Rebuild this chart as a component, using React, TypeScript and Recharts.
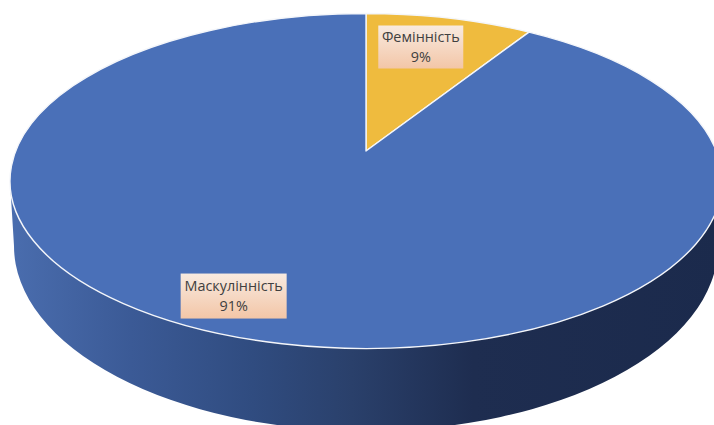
import React from "react";
import { PieChart, Pie } from "recharts";

const names = ["Фемінність", "Маскулінність"];
const shares = [9, 91];
const fills = ["#EFBB3E", "#4A70B8"];
const chartData = names.map((name, i) => ({ name, value: shares[i], fill: fills[i] }));

// Perspective of the disc
const RATIO = 0.4705;
const K = 0.179;
const S = Math.sqrt(1 - K * K);
// Extruded wall
const WALL = { dy: 65, rx: 352, ry: 185, inset: 4 };
// Per-slice label placement: polar position on the disc, plus box size
const LABEL_STYLE: Record<string, { r: number; turn: number; w: number; h: number }> = {
  "Фемінність": { r: 0.746, turn: 2.5, w: 85, h: 43 },
  "Маскулінність": { r: 0.837, turn: -6.7, w: 106, h: 45 },
};

function project(angle: number, r: number, cx: number, cy: number, R: number) {
  const a = (angle * Math.PI) / 180;
  const u = r * Math.cos(a);
  const v = r * Math.sin(a);
  const d = 1 + K * v;
  const pu = (u * S) / d;
  const pv = (v + K) / d;
  return { x: cx + R * pu, y: cy - R * RATIO * pv, pu, pv };
}

function Slice(props: any) {
  const { cx, cy, outerRadius: R, startAngle, endAngle, fill, index } = props;
  const apex = project(0, 0, cx, cy, R);
  const p0 = project(startAngle, 1, cx, cy, R);
  const p1 = project(endAngle, 1, cx, cy, R);
  const large = Math.abs(endAngle - startAngle) > 180 ? 1 : 0;
  const sweep = endAngle < startAngle ? 1 : 0;
  const ry = R * RATIO;
  const wallCy = cy + WALL.dy;
  const side = `M${cx - R},${cy} L${cx - R + WALL.inset},${wallCy} A${WALL.rx},${WALL.ry} 0 0 0 ${cx + R - WALL.inset},${wallCy} L${cx + R},${cy} Z`;
  return (
    <g>
      {index === 1 && (
        <g>
          <defs>
            <linearGradient id="wallGrad" gradientUnits="userSpaceOnUse" x1={cx - R} x2={cx + R} y1="0" y2="0">
              <stop offset="0" stopColor="#4A6DAE" />
              <stop offset="0.17" stopColor="#3B5A96" />
              <stop offset="0.34" stopColor="#304C80" />
              <stop offset="0.48" stopColor="#2A406B" />
              <stop offset="0.65" stopColor="#1E2D50" />
              <stop offset="1" stopColor="#1B2A4C" />
            </linearGradient>
          </defs>
          <path d={side} fill="url(#wallGrad)" />
        </g>
      )}
      <path
        d={`M${apex.x},${apex.y} L${p0.x},${p0.y} A${R},${ry} 0 ${large} ${sweep} ${p1.x},${p1.y} Z`}
        fill={fill}
        stroke="#F4F6FA"
        strokeWidth={1.4}
        strokeLinejoin="round"
      />
    </g>
  );
}

function SliceLabel(props: any) {
  const { cx, cy, outerRadius: R, midAngle, name, value } = props;
  const st = LABEL_STYLE[name];
  const c = project(midAngle + st.turn, st.r, cx, cy, R);
  return (
    <g>
      <defs>
        <linearGradient id={`lab${value}`} x1="0" x2="0" y1="0" y2="1">
          <stop offset="0" stopColor="#F8EAE0" />
          <stop offset="1" stopColor="#F3C6A7" />
        </linearGradient>
      </defs>
      <rect x={c.x - st.w / 2} y={c.y - st.h / 2} width={st.w} height={st.h} fill={`url(#lab${value})`} />
      <text x={c.x} y={c.y - 5} textAnchor="middle" fontSize={14.4} fontFamily="'Open Sans', sans-serif" fill="#404040">
        {name}
      </text>
      <text x={c.x} y={c.y + 15} textAnchor="middle" fontSize={14.4} fontFamily="'Open Sans', sans-serif" fill="#404040">
        {`${value}%`}
      </text>
    </g>
  );
}

export default function App() {
  return (
    <div style={{ position: "absolute", left: 0, top: 0, width: 714, height: 425, overflow: "hidden", background: "#fff" }}>
      <PieChart width={714} height={425} margin={{ top: 0, right: 0, bottom: 0, left: 0 }}>
        <Pie
          data={chartData}
          dataKey="value"
          nameKey="name"
          cx={366}
          cy={181}
          innerRadius={0}
          outerRadius={356}
          startAngle={90}
          endAngle={-270}
          stroke="none"
          isAnimationActive={false}
          shape={Slice}
          label={SliceLabel}
          labelLine={false}
        />
      </PieChart>
    </div>
  );
}
